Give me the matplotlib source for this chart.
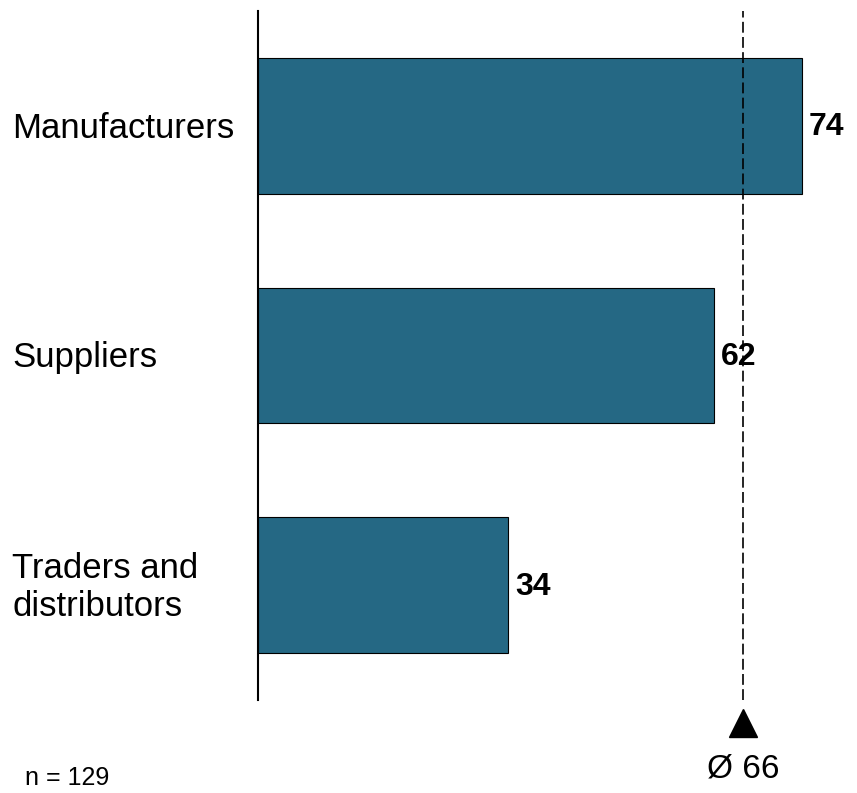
import matplotlib
matplotlib.use("Agg")
import matplotlib.pyplot as plt
from matplotlib.transforms import blended_transform_factory

categories = ["Manufacturers", "Suppliers", "Traders and\ndistributors"]
values = [74, 62, 34]
average = 66
sample_note = "n = 129"

plt.rcParams["font.family"] = ["Liberation Sans", "DejaVu Sans"]

fig = plt.figure(figsize=(8.57, 7.93), dpi=100)
ax = fig.add_axes([258 / 857, 1 - 700 / 793, 1 - 258 / 857, (700 - 11) / 793])

bar_color = "#256884"
positions = list(range(len(categories)))
ax.barh(positions, values, height=0.59, color=bar_color, edgecolor="black", linewidth=0.8, zorder=2)

ax.set_xlim(0, (857 - 258) / 7.351)
ax.set_ylim(len(categories) - 0.5, -0.5)

# average marker line
ax.axvline(average, color="black", linewidth=1.2, dashes=(6.5, 2.6), zorder=3)
ax.plot([average], [len(categories) - 0.5 + 0.1], marker="^", markersize=20,
        color="black", clip_on=False, zorder=4)
ax.text(average, len(categories) - 0.5 + 0.3, f"Ø {average}", ha="center", va="center",
        fontsize=24, clip_on=False)

# value labels
for p, v in zip(positions, values):
    ax.annotate(f"{v}", xy=(v, p), xytext=(5, -1), textcoords="offset points",
                ha="left", va="center", fontsize=23, fontweight="bold", zorder=5)

# category labels, left aligned at the figure edge
label_trans = blended_transform_factory(fig.transFigure, ax.transData)
for p, c in zip(positions, categories):
    ax.text(12 / 857, p + 0.01, c, transform=label_trans,
            ha="left", va="center", fontsize=25, linespacing=1.2)

ax.set_yticks([])
ax.set_xticks([])
for side in ["top", "right", "bottom"]:
    ax.spines[side].set_visible(False)
ax.spines["left"].set_linewidth(1.5)

fig.text(25 / 857, 1 - 778 / 793, sample_note, ha="left", va="center", fontsize=18)

fig.savefig("out.png", dpi=100)
